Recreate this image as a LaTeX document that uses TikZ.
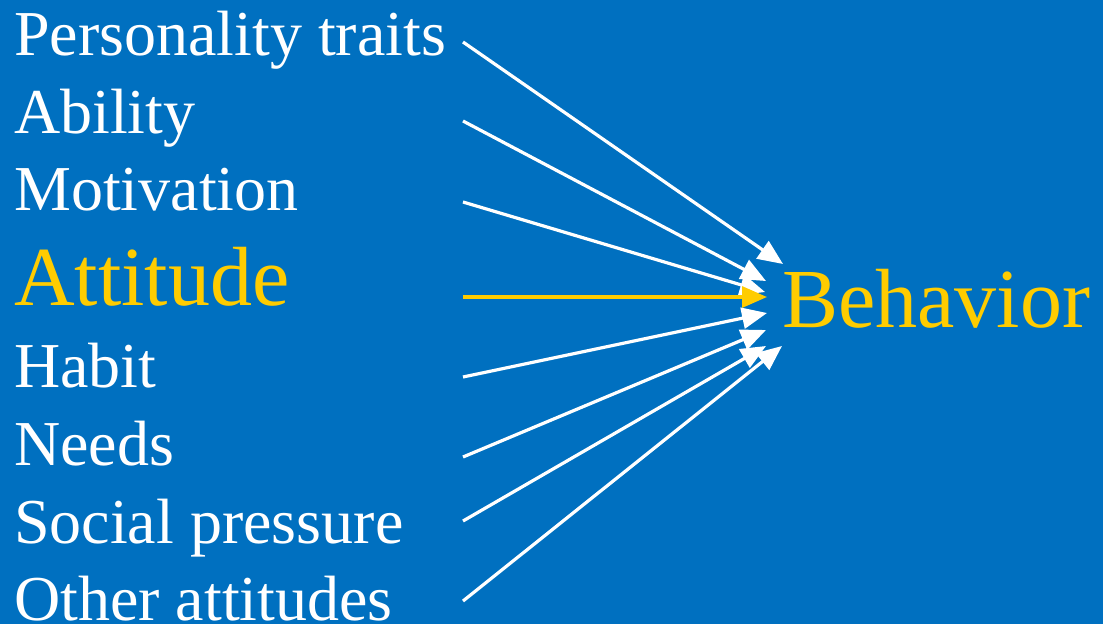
\documentclass[tikz,border=0pt]{standalone}
\usepackage{fontspec}
\setmainfont{Liberation Serif}
\usetikzlibrary{arrows.meta}
\definecolor{bgblue}{HTML}{0070C0}
\definecolor{ygold}{HTML}{FFCC00}
\begin{document}
\begin{tikzpicture}[x=1pt,y=-1pt,
  lbl/.style={anchor=base west,inner sep=0pt,text=white,font=\fontsize{64}{64}\selectfont},
  biglbl/.style={anchor=base west,inner sep=0pt,text=ygold,font=\fontsize{84}{84}\selectfont},
  arr/.style={line width=3.2pt,white,-{Triangle[length=25pt,width=21pt]}},
  yarr/.style={arr,ygold}]
\fill[bgblue] (0,0) rectangle (1103,624);
\useasboundingbox (0,0) rectangle (1103,624);
\node[lbl] (pt) at (14,55) {Personality traits};
\node[lbl] (ab) at (14,133) {Ability};
\node[lbl] (mo) at (14,210) {Motivation};
\node[biglbl] (at) at (14,305) {Attitude};
\node[lbl] (ha) at (14,387) {Habit};
\node[lbl] (ne) at (14,465) {Needs};
\node[lbl] (sp) at (14,543) {Social pressure};
\node[lbl] (oa) at (14,620) {Other attitudes};
\node[biglbl] (be) at (782,327) {Behavior};
\coordinate (s1) at (463,42);
\coordinate (s2) at (463,121);
\coordinate (s3) at (463,202);
\coordinate (s4) at (463,297);
\coordinate (s5) at (463,377);
\coordinate (s6) at (463,457);
\coordinate (s7) at (463,521);
\coordinate (s8) at (463,601);
\coordinate (e1) at (783,264);
\coordinate (e2) at (766,281);
\coordinate (e3) at (765,292);
\coordinate (e4) at (767,297);
\coordinate (e5) at (767,313);
\coordinate (e6) at (766,330);
\coordinate (e7) at (766,346);
\coordinate (e8) at (782,346);
\draw[arr] (s1) -- (e1);
\draw[arr] (s2) -- (e2);
\draw[arr] (s3) -- (e3);
\draw[yarr] (s4) -- (e4);
\draw[arr] (s5) -- (e5);
\draw[arr] (s6) -- (e6);
\draw[arr] (s7) -- (e7);
\draw[arr] (s8) -- (e8);
\end{tikzpicture}
\end{document}
